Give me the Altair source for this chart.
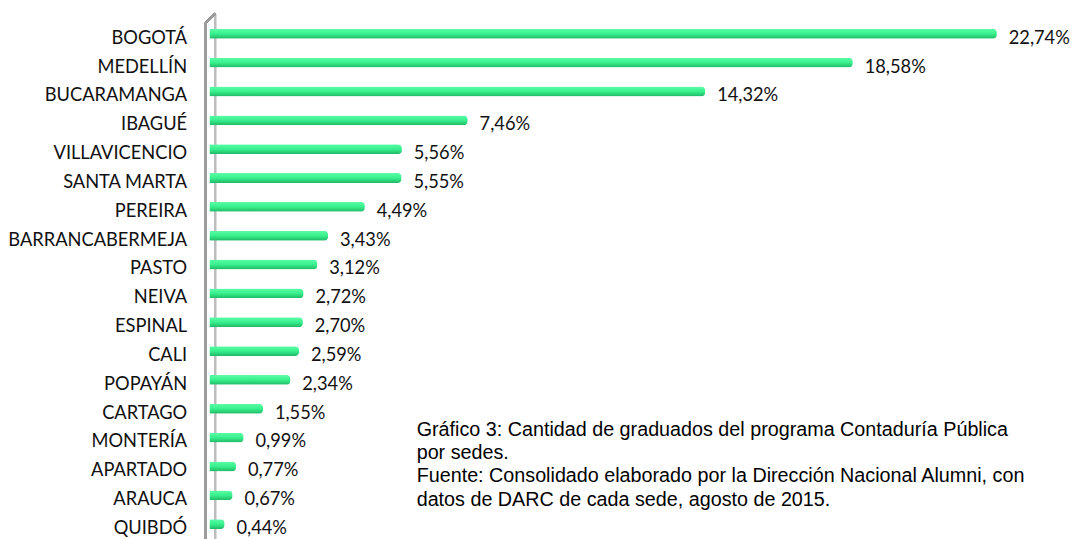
import altair as alt
import pandas as pd

sedes = ["BOGOTÁ", "MEDELLÍN", "BUCARAMANGA", "IBAGUÉ", "VILLAVICENCIO", "SANTA MARTA",
         "PEREIRA", "BARRANCABERMEJA", "PASTO", "NEIVA", "ESPINAL", "CALI", "POPAYÁN",
         "CARTAGO", "MONTERÍA", "APARTADO", "ARAUCA", "QUIBDÓ"]
valores = [22.74, 18.58, 14.32, 7.46, 5.56, 5.55, 4.49, 3.43, 3.12, 2.72, 2.70, 2.59,
           2.34, 1.55, 0.99, 0.77, 0.67, 0.44]
etiquetas = [f"{v:.2f}".replace(".", ",") + "%" for v in valores]

caption_lines = [
    "Gráfico 3: Cantidad de graduados del programa Contaduría Pública",
    "por sedes.",
    "Fuente: Consolidado elaborado por la Dirección Nacional Alumni, con",
    "datos de DARC de cada sede,  agosto de 2015.",
]

df = pd.DataFrame({"sede": sedes, "valor": valores, "etiqueta": etiquetas})

W = 842
H = 526

x_scale = alt.Scale(domain=[0, 24], nice=False, zero=True)
y_scale = alt.Scale(paddingInner=0, paddingOuter=0)
y_enc = alt.Y("sede:N", sort=sedes, title=None, scale=y_scale,
              axis=alt.Axis(ticks=False, domain=False, labelPadding=23, labelFont="Lato",
                            labelFontSize=18.5, labelColor="#111111", grid=False,
                            labelLimit=400))

base = alt.Chart(df)

wall_left = alt.Chart(df).mark_rule(color="#9C9C9C", strokeWidth=2).encode(
    x=alt.value(-4), y=alt.value(0), y2=alt.value(H))
wall_right = alt.Chart(df).mark_rule(color="#BDBDBD", strokeWidth=1.5).encode(
    x=alt.value(6), y=alt.value(-10), y2=alt.value(H))
wall_top = alt.Chart(df).mark_rule(color="#9C9C9C", strokeWidth=2).encode(
    x=alt.value(-4), x2=alt.value(6), y=alt.value(0), y2=alt.value(-10))

bars = base.mark_bar(
    size=10, cornerRadiusEnd=4, yOffset=-4,
    color=alt.Gradient(gradient="linear", x1=0, y1=0, x2=0, y2=1,
                       stops=[alt.GradientStop(color="#5CFCA6", offset=0),
                              alt.GradientStop(color="#38F08D", offset=0.5),
                              alt.GradientStop(color="#1FB865", offset=1)]),
).encode(
    x=alt.X("valor:Q", scale=x_scale, axis=None),
    y=y_enc,
)

labels = base.mark_text(align="left", baseline="middle", dx=12, dy=0,
                        font="Lato", fontSize=18.5, color="#111111").encode(
    x=alt.X("valor:Q", scale=x_scale),
    y=alt.Y("sede:N", sort=sedes, scale=y_scale),
    text="etiqueta:N",
)

caption = alt.Chart(pd.DataFrame({"k": [0]})).mark_text(
    align="left", baseline="alphabetic", font="Liberation Sans", fontSize=20,
    lineHeight=23.5, color="#000000", text=caption_lines,
).encode(x=alt.value(210), y=alt.value(418))

chart = alt.layer(wall_left, wall_right, wall_top, bars, labels, caption).properties(
    width=W, height=H,
    autosize=alt.AutoSizeParams(type="none"),
    padding={"left": 204, "top": 12, "right": 40, "bottom": 0},
).configure(background="white").configure_view(stroke=None)

chart.save("out.html", embed_options={"renderer": "svg", "actions": False})
